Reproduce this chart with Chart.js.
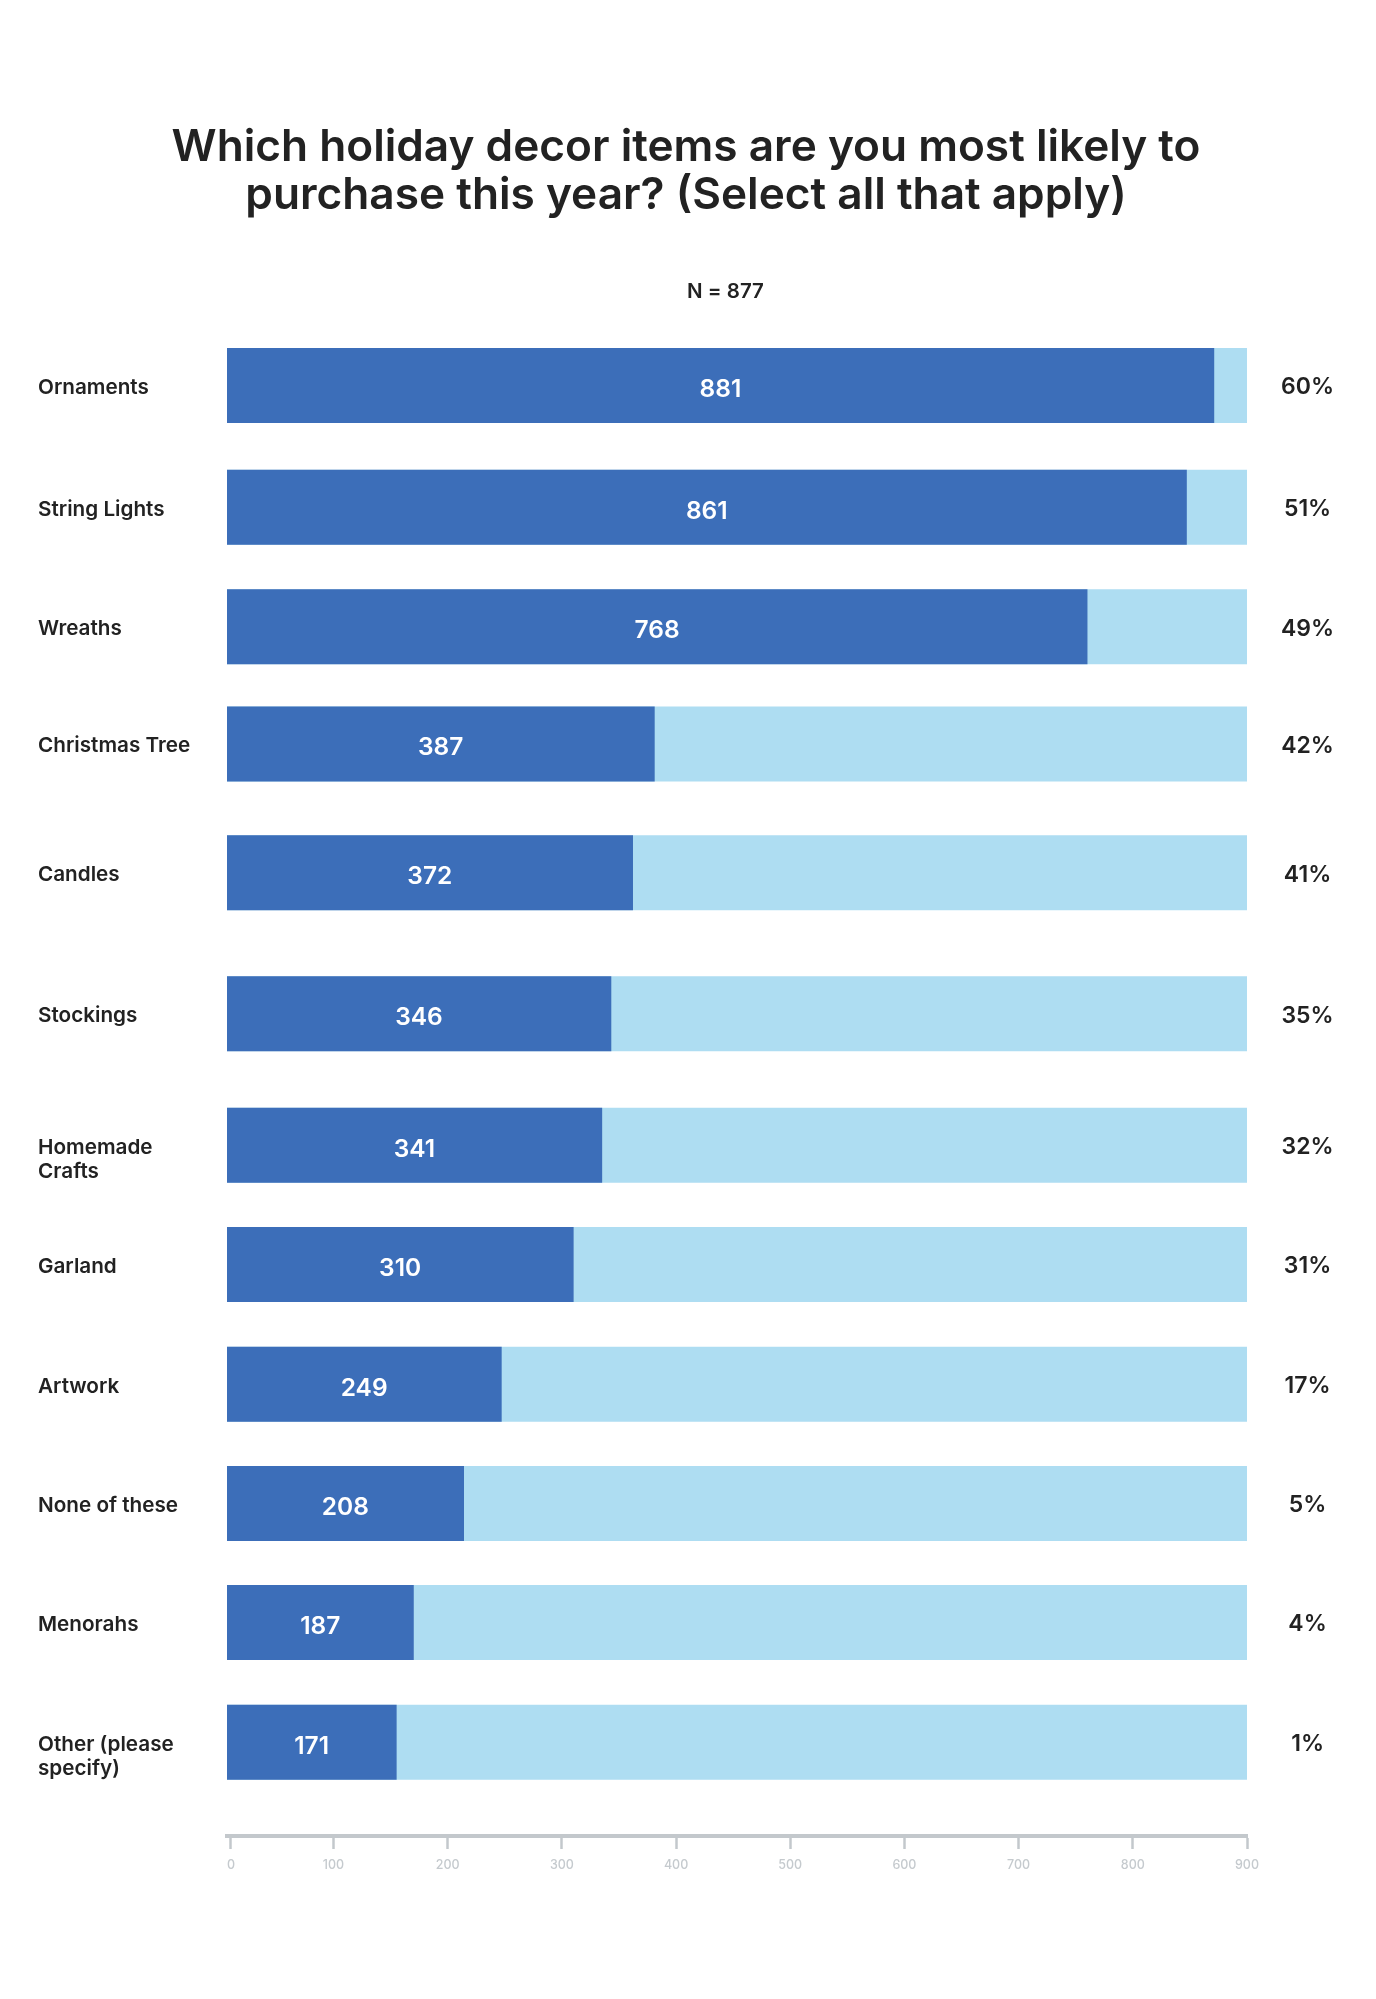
<!DOCTYPE html>
<html><head><meta charset="utf-8">
<style>html,body{margin:0;padding:0;background:#fff}canvas{display:block}</style>
<script src="https://cdn.jsdelivr.net/npm/chart.js@4/dist/chart.umd.js"></script>
</head><body>
<canvas id="c" width="1376" height="1999" style="width:1376px;height:1999px"></canvas>
<script>
const categories = ["Ornaments","String Lights","Wreaths","Christmas Tree","Candles","Stockings",["Homemade","Crafts"],"Garland","Artwork","None of these","Menorahs",["Other (please","specify)"]];
const valueLabels = ["881","861","768","387","372","346","341","310","249","208","187","171"];
const barLengths = [871,847,760,381,362,343,335,310,247,214,170,155];
const trackValues = [900,900,900,900,900,900,900,900,900,900,900,900];
const percentLabels = ["60%","51%","49%","42%","41%","35%","32%","31%","17%","5%","4%","1%"];
const tickLabels = [0,100,200,300,400,500,600,700,800,900];
const titleLines = ["Which holiday decor items are you most likely to","purchase this year? (Select all that apply)"];
const noteText = "N = 877";

const FAMILY = "Inter, sans-serif";
const layoutCfg = {
  rowNudge:[-1.5,-5.7,-12.2,-21,-18.3,-3.3,2.3,-4.5,-10.7,-17.5,-24.5,-30.7],
  axisStart:6.74, zeroTickAt:10.2, twoLineDrop:14.5
};

class RowScale extends Chart.CategoryScale {
  static id='rows';
  static defaults=Chart.CategoryScale.defaults;
  getPixelForValue(value,index){
    const p=super.getPixelForValue(value,index);
    const n=layoutCfg.rowNudge[Math.round(typeof value==='number'?value:this.parse(value))]||0;
    return p+n;
  }
  getPixelForTick(i){
    const p=super.getPixelForTick(i);
    const t=this.ticks[i];
    return p+(t&&Array.isArray(t.label)?layoutCfg.twoLineDrop:2);
  }
}
Chart.register(RowScale);

const textPlugin={
  id:'textPlugin',
  afterDatasetsDraw(chart){
    const {ctx,chartArea}=chart;
    const meta=chart.getDatasetMeta(0);
    ctx.save();
    ctx.textAlign='center';ctx.textBaseline='middle';
    ctx.fillStyle='#ffffff';ctx.font='600 24.5px '+FAMILY;
    meta.data.forEach((b,i)=>{ctx.fillText(valueLabels[i],(b.x+chartArea.left)/2,b.y+4);});
    ctx.fillStyle='#222222';ctx.font='600 20.5px '+FAMILY;
    ctx.fillText(noteText,chartArea.left+498.5,chartArea.top-32);
    ctx.restore();
  }
};

new Chart(document.getElementById('c'),{
  type:'bar',
  data:{labels:categories,datasets:[
    {label:'Selected',data:barLengths,backgroundColor:'#3c6eb9',barThickness:74.4},
    {label:'Total',data:trackValues,backgroundColor:'#aeddf2',barThickness:74.4}
  ]},
  options:{
    indexAxis:'y',responsive:false,animation:false,devicePixelRatio:1,
    datasets:{bar:{grouped:false}},
    layout:{padding:{left:38,right:42,top:0,bottom:0}},
    plugins:{
      legend:{display:false},tooltip:{enabled:false},
      title:{display:true,text:titleLines,color:'#222222',
        font:{family:FAMILY,size:44.2,weight:'600',lineHeight:48/44.2},
        padding:{top:124,bottom:104}}
    },
    scales:{
      x:{type:'linear',position:'bottom',min:layoutCfg.axisStart,max:900,
        grid:{drawOnChartArea:false,drawTicks:true,tickLength:13,tickWidth:2.5,tickColor:'#c3c8cc'},
        border:{display:true,color:'#c3c8cc',width:4},
        afterBuildTicks:s=>{s.ticks=tickLabels.map(v=>({value:v===0?layoutCfg.zeroTickAt:v}));},
        ticks:{autoSkip:false,maxRotation:0,minRotation:0,color:'#c5cace',padding:9,
          font:{family:FAMILY,size:12.5,weight:'500'},
          callback:(v,i)=>String(tickLabels[i])},
        afterFit:s=>{s.height=163;}
      },
      y:{type:'rows',position:'left',offset:true,
        grid:{display:false},border:{display:false},
        ticks:{crossAlign:'far',autoSkip:false,padding:0,color:'#222222',
          font:{family:FAMILY,size:20.7,weight:'600',lineHeight:24/20.7}},
        afterFit:s=>{s.width=189;}
      },
      y2:{type:'rows',position:'right',offset:true,labels:percentLabels,
        grid:{display:false},border:{display:false},
        ticks:{crossAlign:'center',autoSkip:false,padding:26,color:'#222222',
          font:{family:FAMILY,size:23,weight:'600'}},
        afterFit:s=>{s.width=87;}
      }
    }
  },
  plugins:[textPlugin]
});
</script>
</body></html>
